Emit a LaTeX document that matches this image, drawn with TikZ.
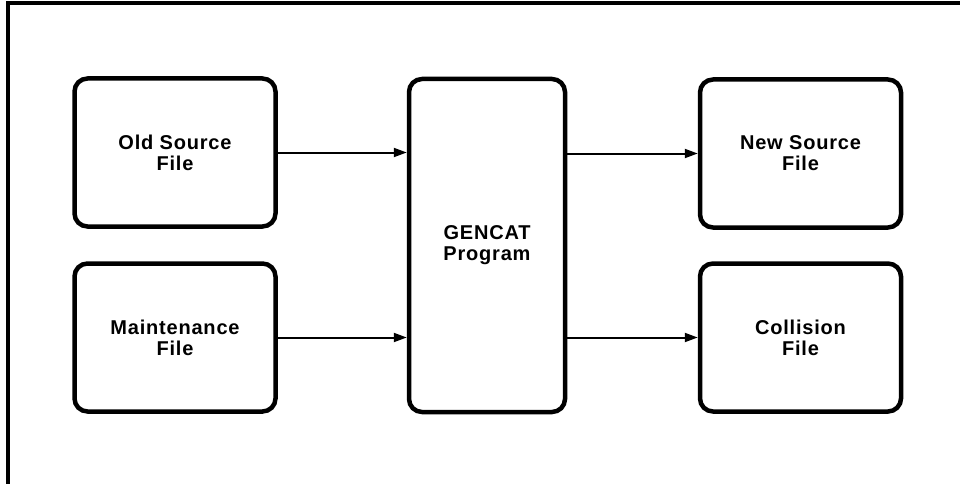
\documentclass[tikz,border=0pt]{standalone}
\usepackage{fontspec}
\setmainfont{Liberation Sans}
\usepackage{tikz}
\usetikzlibrary{arrows.meta,positioning,calc}

\begin{document}
\begin{tikzpicture}[
    x=1pt, y=-1pt,
    >={Triangle[length=13pt,width=9pt]},
    every node/.style={font=\fontsize{20}{21}\selectfont\bfseries\addfontfeature{LetterSpace=4}},
    filebox/.style={rectangle, draw=black, line width=4.5pt, rounded corners=13pt, align=center, minimum width=201pt, minimum height=148pt, inner sep=0pt},
    progbox/.style={rectangle, draw=black, line width=4.5pt, rounded corners=13pt, align=center, minimum width=156pt, minimum height=333pt, inner sep=0pt},
    flow/.style={->, line width=2pt},
    frameline/.style={line width=4pt}
]
    \useasboundingbox (0,0) rectangle (960,484);

    % outer frame (top and left edge only)
    \draw[frameline] (8,484) |- (960,3);

    \node (old) [filebox] at (175,152.5) {Old Source\\File};
    \node (maint) [filebox] at (175,337.5) {Maintenance\\File};
    \node (gencat) [progbox] at (487,245.5) {GENCAT\\Program};
    \node (new) [filebox] at (800.5,153.5) {New Source\\File};
    \node (coll) [filebox] at (800.5,337.5) {Collision\\File};

    \draw[flow] (old.east) -- (old.east -| gencat.west);
    \draw[flow] (maint.east) -- (maint.east -| gencat.west);
    \draw[flow] (new.west -| gencat.east) -- (new.west);
    \draw[flow] (coll.west -| gencat.east) -- (coll.west);

\end{tikzpicture}
\end{document}
